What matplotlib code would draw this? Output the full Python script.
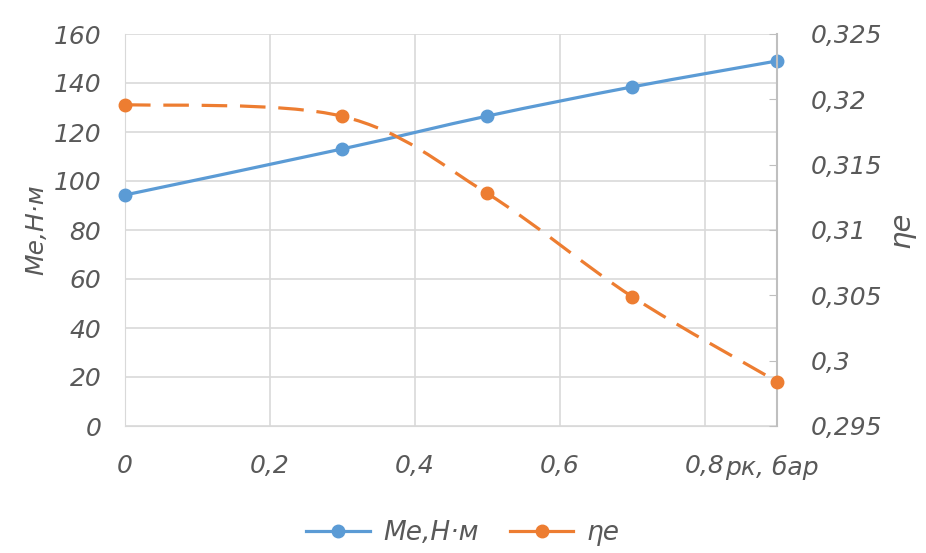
import matplotlib
matplotlib.use("Agg")
import matplotlib.pyplot as plt
from matplotlib.path import Path
from matplotlib.patches import PathPatch
from matplotlib.lines import Line2D

# данные с графика
pk = [0, 0.3, 0.5, 0.7, 0.9]
me = [94.3, 113.1, 126.5, 138.4, 149.0]
eta = [0.3196, 0.3187, 0.3128, 0.3049, 0.2984]

blue = "#5B9BD5"
orange = "#ED7D31"
grey = "#595959"

plt.rcParams['font.family'] = ['DejaVu Sans']
plt.rcParams['font.style'] = 'oblique'


def smooth(ax, xs, ys, **kw):
    # сглаженная линия как в Excel (кривые Безье)
    pts = list(zip(xs, ys))
    verts = [pts[0]]
    codes = [Path.MOVETO]
    n = len(pts)
    for i in range(n - 1):
        p0 = pts[i - 1] if i > 0 else pts[i]
        p1 = pts[i]
        p2 = pts[i + 1]
        p3 = pts[i + 2] if i + 2 < n else pts[i + 1]
        c1 = (p1[0] + (p2[0] - p0[0]) / 6, p1[1] + (p2[1] - p0[1]) / 6)
        c2 = (p2[0] - (p3[0] - p1[0]) / 6, p2[1] - (p3[1] - p1[1]) / 6)
        verts += [c1, c2, p2]
        codes += [Path.CURVE4] * 3
    patch = PathPatch(Path(verts, codes), fill=False, transform=ax.transData, **kw)
    ax.add_patch(patch)


fig = plt.figure(figsize=(9.26, 5.53), dpi=100)
ax = fig.add_axes([125 / 926, 1 - 426 / 553, 652 / 926, 392 / 553])
ax2 = ax.twinx()

ax.set_xlim(0, 0.9)
ax.set_ylim(0, 160)
ax2.set_ylim(0.295, 0.325)
ax.set_xticks([0, 0.2, 0.4, 0.6, 0.8])
ax.set_yticks(range(0, 161, 20))
ax2.set_yticks([0.295, 0.3, 0.305, 0.31, 0.315, 0.32, 0.325])
ax.set_xticklabels(["0", "0,2", "0,4", "0,6", "0,8"])
ax.set_yticklabels([str(v) for v in range(0, 161, 20)])
ax2.set_yticklabels(["0,295", "0,3", "0,305", "0,31", "0,315", "0,32", "0,325"])

ax.grid(True, color="#D9D9D9", linewidth=1.2)
ax.set_axisbelow(True)
for a in (ax, ax2):
    for s in a.spines.values():
        s.set_visible(False)
ax2.spines['right'].set_visible(True)
ax2.spines['right'].set_color("#BFBFBF")
ax2.spines['right'].set_linewidth(1.5)
ax.spines['left'].set_visible(True)
ax.spines['left'].set_color("#D9D9D9")
ax.spines['bottom'].set_visible(True)
ax.spines['bottom'].set_color("#D9D9D9")

ax.tick_params(axis='both', length=0, labelsize=18, labelcolor=grey, pad=17)
ax.tick_params(axis='x', pad=20)
ax2.tick_params(axis='y', direction='in', length=6, color="#BFBFBF",
                labelsize=18, labelcolor=grey, pad=24)

smooth(ax, pk, me, edgecolor=blue, linewidth=2.3, zorder=3)
ax.plot(pk, me, 'o', color=blue, markersize=9, zorder=4, clip_on=False)

smooth(ax2, pk, eta, edgecolor=orange, linewidth=2.3, linestyle=(0, (8, 4)), zorder=3)
ax2.plot(pk, eta, 'o', color=orange, markersize=9, zorder=4, clip_on=False)

ax.set_ylabel("Me,H·м", fontsize=18, color=grey, labelpad=4)
ax2.set_ylabel("ηe", fontsize=21, color=grey, rotation=90, labelpad=4)
fig.text(725 / 926, 1 - 467 / 553, "рк, бар", fontsize=18, color=grey,
         ha='left', va='center')

handles = [
    Line2D([], [], color=blue, linewidth=2.3, marker='o', markersize=9),
    Line2D([], [], color=orange, linewidth=2.3, marker='o', markersize=9),
]
fig.legend(handles, ["Me,H·м", "ηe"], loc='center', bbox_to_anchor=(0.5, 1 - 533 / 553),
           ncol=2, frameon=False, fontsize=19, labelcolor=grey, handlelength=2.4,
           columnspacing=1.2, handletextpad=0.5)

fig.savefig("out.png", dpi=100)
